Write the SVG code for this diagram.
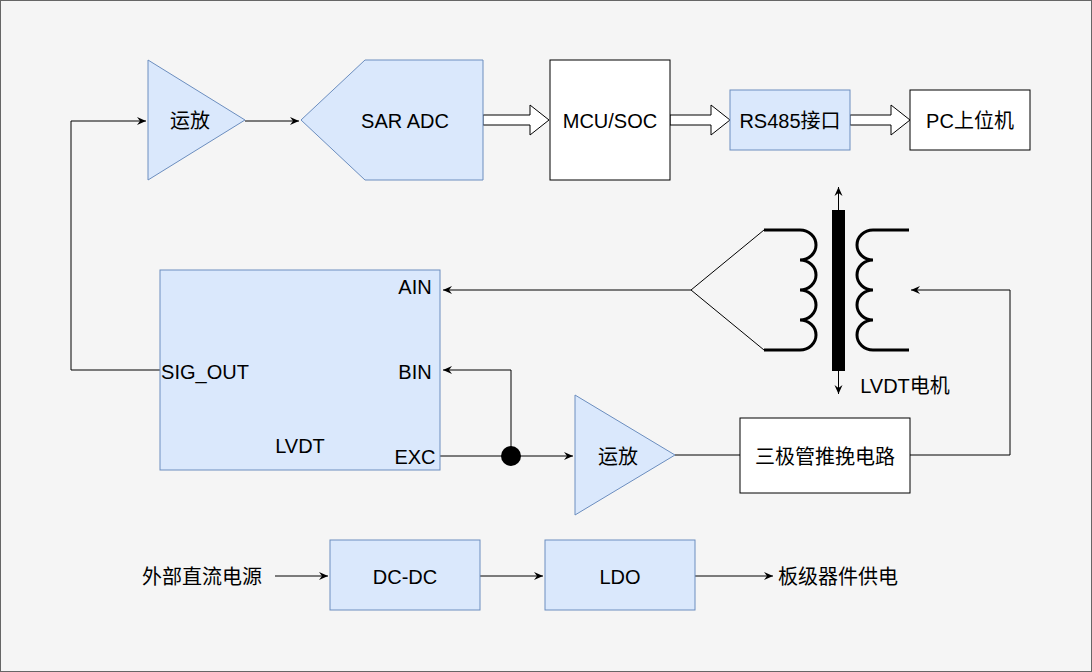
<svg xmlns="http://www.w3.org/2000/svg" width="1092" height="672" viewBox="0 0 1092 672">
<style>
text{font-family:"Liberation Sans","Noto Sans CJK SC",sans-serif;font-size:20px;fill:#000;text-anchor:middle;dominant-baseline:central}
.b{fill:#dae8fc;stroke:#6c8ebf;stroke-width:1}
.w{fill:#fff;stroke:#000;stroke-width:1}
.l{fill:none;stroke:#000;stroke-width:1}
.c{fill:none;stroke:#000;stroke-width:3}
.h{fill:#fff;stroke:#000;stroke-width:1}
</style>
<defs>
<marker id="a" viewBox="0 0 10 10" refX="9" refY="5" markerWidth="10" markerHeight="10" markerUnits="userSpaceOnUse" orient="auto"><path d="M0,1 L9,5 L0,9 L3,5 Z" fill="#000"/></marker>
</defs>
<rect x="0.5" y="0.5" width="1091" height="671" fill="#f5f5f5" stroke="#666"/>
<g id="connectors">
<path class="l" d="M245,121 H299" marker-end="url(#a)"/>
<path class="l" d="M160,370 H71 V121 H146" marker-end="url(#a)"/>
<path class="h" d="M483,115 H530 V105 L549,120 L530,135 V125 H483 Z"/>
<path class="h" d="M670,115 H711 V105 L730,120 L711,135 V125 H670 Z"/>
<path class="h" d="M850,115 H891 V105 L910,120 L891,135 V125 H850 Z"/>
<path class="l" d="M691,290 H443" marker-end="url(#a)"/>
<path class="l" d="M511,456 V370 H443" marker-end="url(#a)"/>
<path class="l" d="M440,456 H573" marker-end="url(#a)"/>
<circle cx="511" cy="456" r="10" fill="#000"/>
<path class="l" d="M675,455 H740"/>
<path class="l" d="M910,455 H1010 V290 H911" marker-end="url(#a)"/>
<path class="l" d="M275,576 H328" marker-end="url(#a)"/>
<path class="l" d="M480,576 H543" marker-end="url(#a)"/>
<path class="l" d="M695,576 H773" marker-end="url(#a)"/>
</g>
<g id="opamp1"><polygon class="b" points="148,60 148,180 245,120"/><text x="190" y="121">运放</text></g>
<g id="adc"><polygon class="b" points="301,120 365,60 483,60 483,180 365,180"/><text x="405" y="121">SAR ADC</text></g>
<g id="mcu"><rect class="w" x="550" y="60" width="120" height="120"/><text x="610" y="121">MCU/SOC</text></g>
<g id="rs485"><rect class="b" x="730" y="90" width="120" height="60"/><text x="790" y="121">RS485接口</text></g>
<g id="pc"><rect class="w" x="910" y="90" width="120" height="60"/><text x="970" y="121">PC上位机</text></g>
<g id="lvdt"><rect class="b" x="160" y="270" width="280" height="200"/>
<text x="415" y="287">AIN</text><text x="415" y="372">BIN</text><text x="415" y="457">EXC</text>
<text x="205" y="372">SIG_OUT</text><text x="300" y="446">LVDT</text></g>
<g id="motor">
<path class="l" d="M764,230 L691,290 L764,350"/>
<path class="c" d="M764,230 H800 A16 15 0 0 1 800 260 A16 15 0 0 1 800 290 A16 15 0 0 1 800 320 A16 15 0 0 1 800 350 H764"/>
<path class="c" d="M909,230 H873 A16 15 0 0 0 873 260 A16 15 0 0 0 873 290 A16 15 0 0 0 873 320 A16 15 0 0 0 873 350 H909"/>
<rect x="832" y="210" width="13" height="161" fill="#000"/>
<path class="l" d="M838.5,210 V187" marker-end="url(#a)"/>
<path class="l" d="M838.5,371 V394" marker-end="url(#a)"/>
<text x="905" y="386">LVDT电机</text>
</g>
<g id="opamp2"><polygon class="b" points="575,395 575,515 675,455"/><text x="618" y="457">运放</text></g>
<g id="pushpull"><rect class="w" x="740" y="418" width="170" height="75"/><text x="825" y="457">三极管推挽电路</text></g>
<g id="src"><text x="202" y="577">外部直流电源</text></g>
<g id="dcdc"><rect class="b" x="330" y="540" width="150" height="70"/><text x="405" y="577">DC-DC</text></g>
<g id="ldo"><rect class="b" x="545" y="540" width="150" height="70"/><text x="620" y="577">LDO</text></g>
<g id="load"><text x="838" y="577">板级器件供电</text></g>
</svg>
